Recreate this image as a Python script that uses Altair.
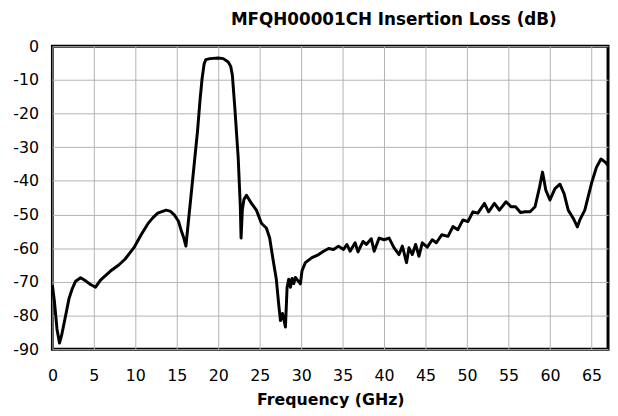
import altair as alt
import pandas as pd

freq_ghz = [
    0.0, 0.25, 0.55, 0.85, 1.1, 1.45, 2.0, 2.4, 2.8, 3.4, 4.0, 4.6, 5.2, 5.8, 7.0, 8.0, 8.75,
    9.9, 10.7, 11.5, 12.1, 12.7, 13.7, 14.2, 14.7, 15.2, 15.5, 15.85, 16.1, 16.4, 16.7, 17.1,
    17.5, 17.8, 18.05, 18.3, 18.5, 19.0, 20.0, 20.6, 21.2, 21.5, 21.7, 22.0, 22.4, 22.65, 22.75,
    22.9, 23.1, 23.4, 24.0, 24.6, 25.2, 25.8, 26.2, 26.6, 27.0, 27.3, 27.5, 27.75, 28.1, 28.3,
    28.5, 28.7, 28.9, 29.1, 29.3, 29.9, 30.1, 30.5, 31.3, 32.1, 32.7, 33.3, 33.9, 34.5, 35.1,
    35.5, 35.9, 36.5, 36.85, 37.45, 37.85, 38.45, 38.8, 39.4, 40.0, 40.6, 41.2, 41.8, 42.2,
    42.7, 43.0, 43.4, 43.8, 44.2, 44.6, 45.2, 45.8, 46.3, 46.95, 47.7, 48.3, 48.9, 49.5, 50.1,
    50.7, 51.3, 52.1, 52.6, 53.3, 53.9, 54.7, 55.3, 55.85, 56.45, 57.0, 57.6, 58.2, 58.75,
    59.1, 59.5, 60.0, 60.6, 61.2, 61.7, 62.2, 62.8, 63.3, 63.6, 64.2, 65.0, 65.6, 66.15, 66.7,
    67.0,
]
insertion_loss_db = [
    -71.0, -76.0, -84.0, -88.2, -86.0, -81.8, -75.0, -72.0, -69.8, -68.8, -69.7, -70.8, -71.6,
    -69.5, -66.8, -65.0, -63.3, -59.6, -56.0, -52.8, -51.0, -49.6, -48.7, -49.0, -50.1, -52.0,
    -54.5, -57.0, -59.4, -52.0, -44.8, -35.0, -25.2, -16.0, -9.6, -5.2, -4.0, -3.7, -3.5, -3.7,
    -4.7, -6.0, -8.6, -18.4, -33.0, -47.0, -57.0, -48.7, -45.5, -44.3, -46.7, -48.7, -52.6,
    -54.0, -57.0, -63.3, -69.2, -77.0, -81.5, -79.4, -83.4, -71.6, -69.2, -71.6, -69.0, -70.5,
    -68.7, -70.6, -66.7, -64.3, -62.8, -61.9, -60.9, -60.1, -60.4, -59.4, -60.4, -58.9, -60.9,
    -58.4, -61.1, -58.0, -58.9, -57.2, -60.9, -57.0, -57.5, -57.0, -59.9, -61.9, -59.4, -64.3,
    -59.9, -61.9, -58.9, -62.4, -58.4, -59.7, -57.5, -58.4, -56.0, -56.5, -53.6, -54.5, -51.6,
    -52.1, -49.2, -49.6, -46.7, -49.2, -46.7, -48.7, -46.2, -47.7, -47.7, -49.4, -49.2, -49.2,
    -47.7, -41.8, -37.4, -42.8, -45.7, -42.3, -41.0, -43.8, -48.7, -51.1, -53.7, -51.6, -48.7,
    -40.8, -36.0, -33.5, -34.5, -35.5,
]

x_ticks = list(range(0, 70, 5))
y_ticks = list(range(-90, 10, 10))

df = pd.DataFrame({"f": freq_ghz, "il": insertion_loss_db})

FONT = "DejaVu Sans"

chart = (
    alt.Chart(df)
    .mark_line(color="black", strokeWidth=3, strokeJoin="round")
    .encode(
        x=alt.X(
            "f:Q",
            scale=alt.Scale(domain=[0, 67], nice=False, zero=False),
            axis=alt.Axis(
                values=x_ticks,
                title="Frequency (GHz)",
                labelExpr="datum.value + ''",
                ticks=False,
                domain=False,
                labelPadding=19,
                labelFontSize=16,
                labelFont=FONT,
                labelColor="black",
                titleFont=FONT,
                titleFontSize=16,
                titleFontWeight="bold",
                titleColor="black",
                titlePadding=8,
                gridColor="#b3b3b3",
                gridWidth=1,
                gridOpacity=1,
                labelFlush=False,
            ),
        ),
        y=alt.Y(
            "il:Q",
            scale=alt.Scale(domain=[-90, 0], nice=False, zero=False),
            axis=alt.Axis(
                values=y_ticks,
                title=None,
                labelExpr="datum.value + ''",
                ticks=False,
                domain=False,
                labelPadding=14,
                labelFontSize=16,
                labelFont=FONT,
                labelColor="black",
                gridColor="#b3b3b3",
                gridWidth=1,
                gridOpacity=1,
                labelFlush=False,
            ),
        ),
    )
    .properties(
        width=563,
        height=307,
        title=alt.TitleParams(
            "MFQH00001CH Insertion Loss (dB)",
            font=FONT,
            fontSize=17,
            fontWeight="bold",
            color="black",
            anchor="start",
            dx=221,
            offset=9,
        ),
        autosize=alt.AutoSizeParams(type="none"),
        padding={"left": 45, "top": 36, "right": 2, "bottom": 62},
    )
    .configure_view(stroke="black", strokeWidth=3)
)

chart.save("out.html", embed_options={"renderer": "svg", "actions": False})
